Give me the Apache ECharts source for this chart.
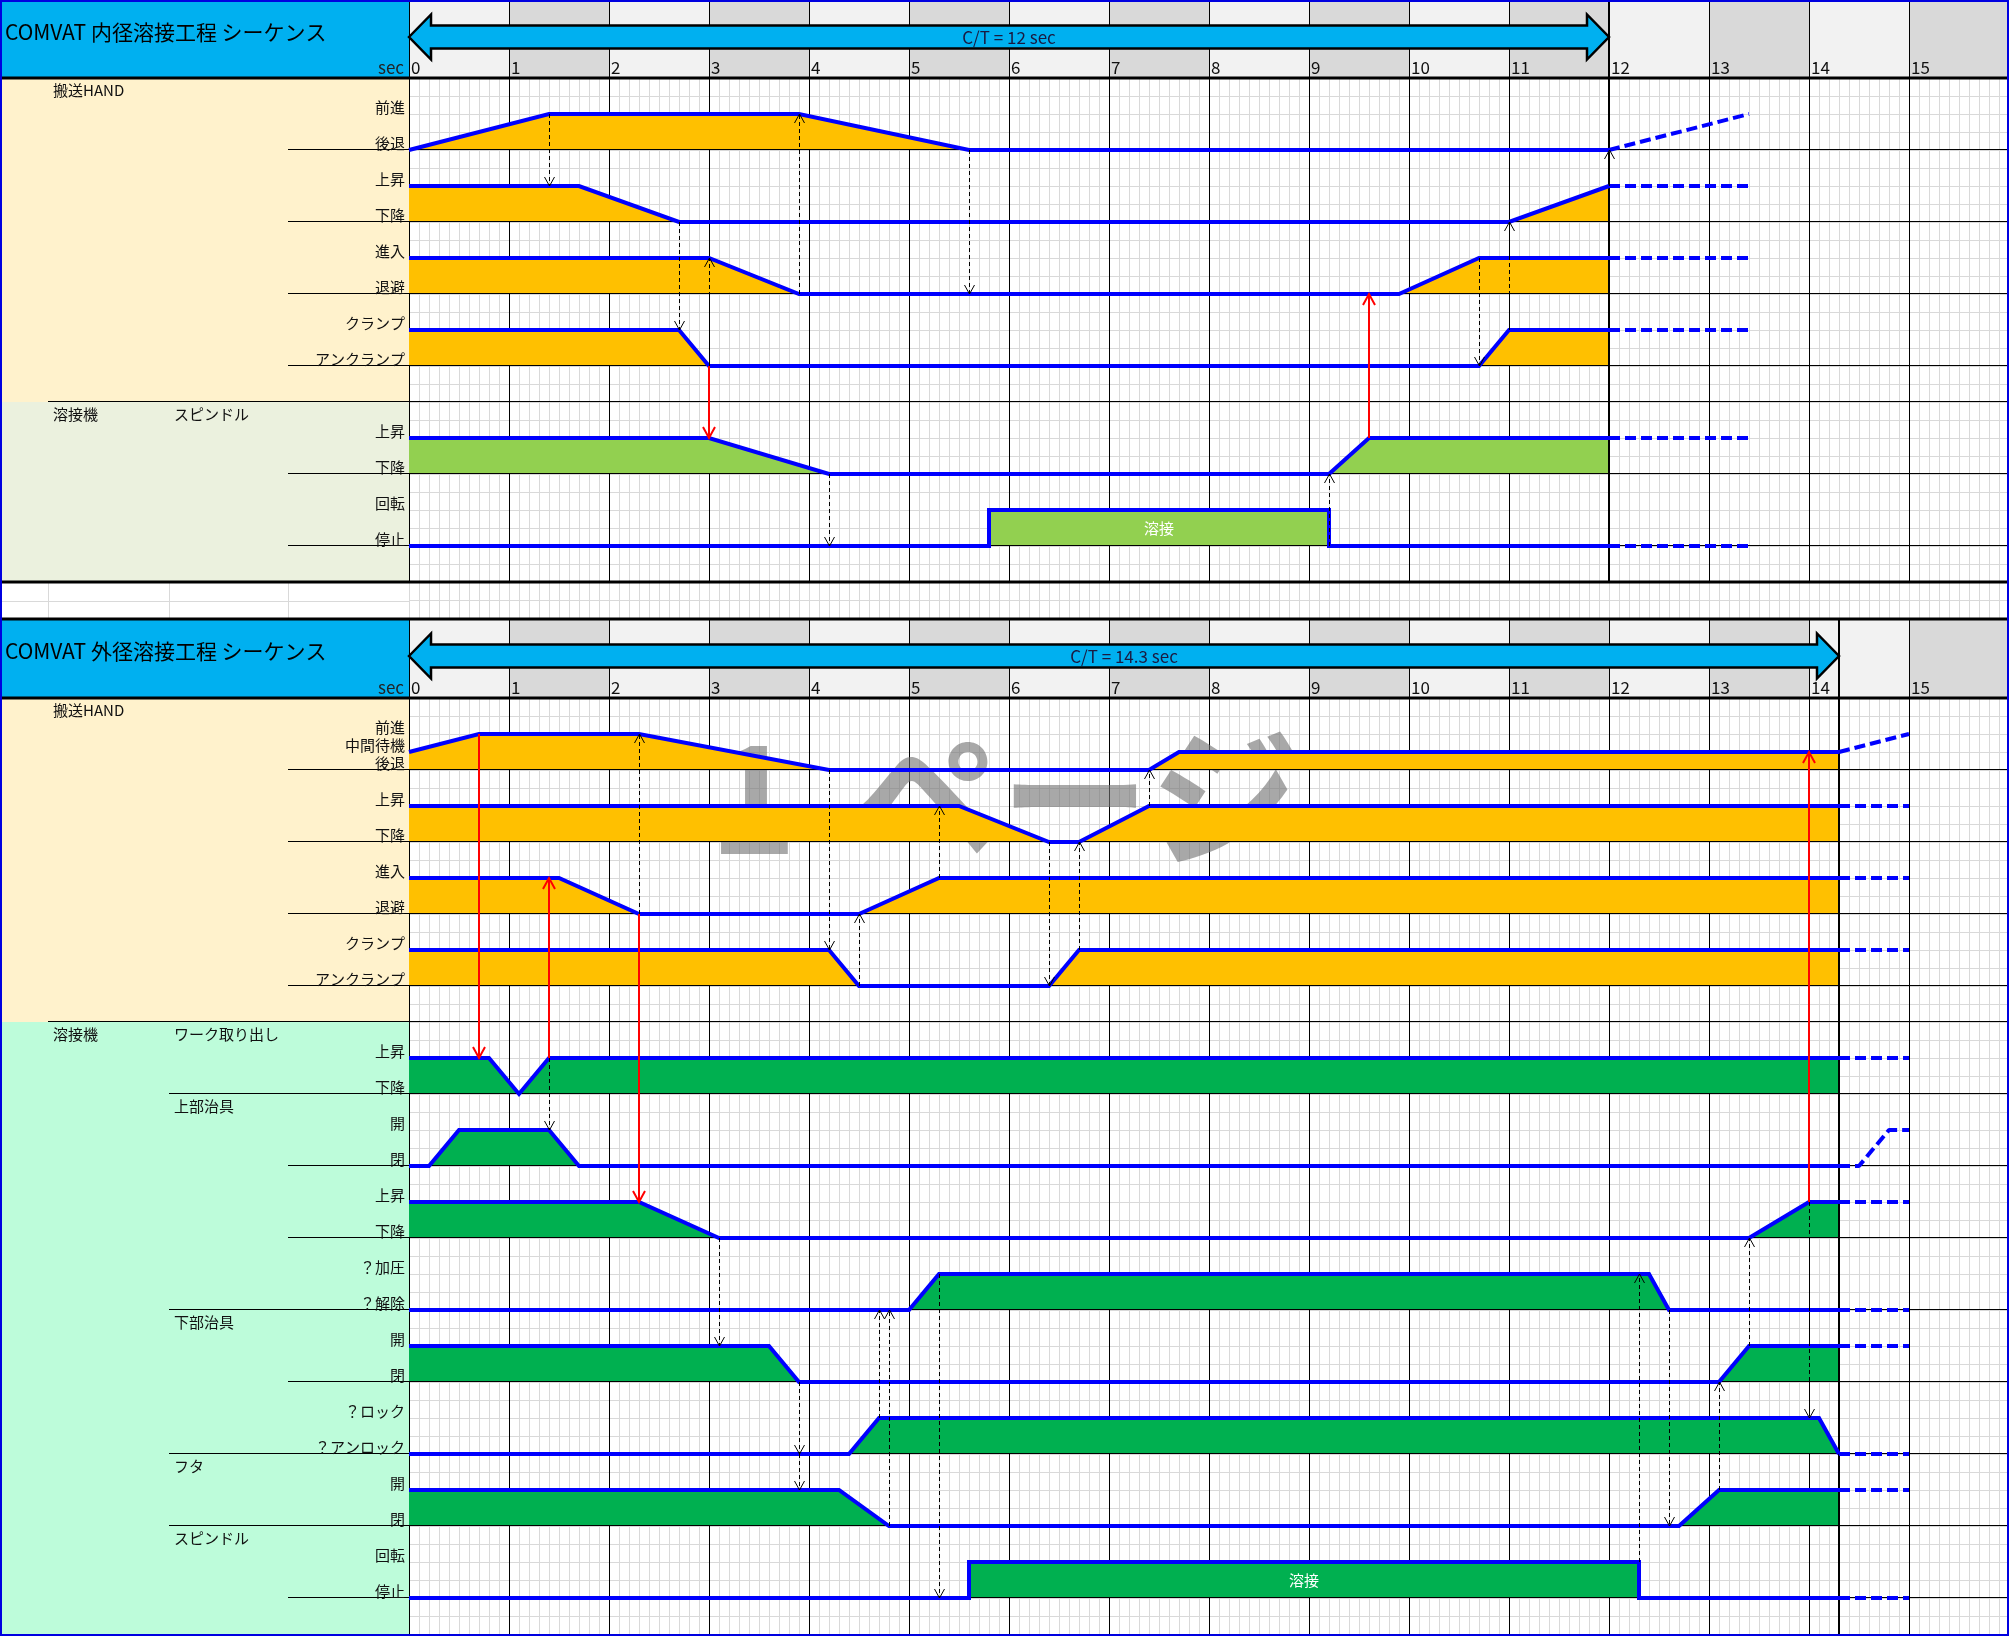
<!DOCTYPE html>
<html>
<head>
<meta charset="utf-8">
<script src="https://cdn.jsdelivr.net/npm/echarts@6.0.0/dist/echarts.min.js"></script>
<style>
html,body{margin:0;padding:0;background:#ffffff;overflow:hidden;}
#chart{width:2009px;height:1636px;}
</style>
</head>
<body>
<div id="chart"></div>
<script>
// ================= DATA =================
const tickLabels = ['0','1','2','3','4','5','6','7','8','9','10','11','12','13','14','15'];
const topTitle = 'COMVAT 内径溶接工程 シーケンス';
const botTitle = 'COMVAT 外径溶接工程 シーケンス';
const topCycle = 12;
const botCycle = 14.3;
const weldText = '溶接';
const secText = 'sec';

// ---- Top chart (内径): [time, level]  level 1 = upper label, 0 = lower label ----
const tHandFwd     = [[0,0],[1.4,1],[3.9,1],[5.6,0],[12,0]];
const tHandFwdN    = [[12,0],[13.4,1]];
const tHandUp      = [[0,1],[1.7,1],[2.7,0],[11,0],[12,1]];
const tHandUpN     = [[12,1],[13.4,1]];
const tHandIn      = [[0,1],[3,1],[3.9,0],[9.9,0],[10.7,1],[12,1]];
const tHandInN     = [[12,1],[13.4,1]];
const tHandClamp   = [[0,1],[2.7,1],[3,0],[10.7,0],[11,1],[12,1]];
const tHandClampN  = [[12,1],[13.4,1]];
const tSpUp        = [[0,1],[3,1],[4.2,0],[9.2,0],[9.6,1],[12,1]];
const tSpUpN       = [[12,1],[13.4,1]];
const tSpRot       = [[0,0],[5.8,0],[5.8,1],[9.2,1],[9.2,0],[12,0]];
const tSpRotN      = [[12,0],[13.4,0]];

const topLevelNames = [['前進','後退'],['上昇','下降'],['進入','退避'],['クランプ','アンクランプ'],['上昇','下降'],['回転','停止']];
const topGroups = [['搬送HAND',1,0],['溶接機',1,4],['スピンドル',2,4]];
// arrows: [time, fromSignal, fromLevel, toSignal, toLevel]
const topDashArrows = [[1.4,0,1,1,1],[2.7,1,0,3,1],[3.0,3,0,2,1],[3.9,2,0,0,1],[4.2,4,0,5,0],
  [5.6,0,0,2,0],[9.2,5,0,4,0],[10.7,2,1,3,0],[11.0,3,1,1,0],[12.0,1,1,0,0]];
const topRedArrows = [[3.0,3,0,4,1],[9.6,4,1,2,0]];

// ---- Bottom chart (外径) ----
const bHandFwd     = [[0,0.5],[0.7,1],[2.3,1],[4.2,0],[7.4,0],[7.7,0.5],[14.3,0.5]];
const bHandFwdN    = [[14.3,0.5],[15,1]];
const bHandUp      = [[0,1],[5.5,1],[6.4,0],[6.7,0],[7.4,1],[14.3,1]];
const bHandUpN     = [[14.3,1],[15,1]];
const bHandIn      = [[0,1],[1.5,1],[2.3,0],[4.5,0],[5.3,1],[14.3,1]];
const bHandInN     = [[14.3,1],[15,1]];
const bHandClamp   = [[0,1],[4.2,1],[4.5,0],[6.4,0],[6.7,1],[14.3,1]];
const bHandClampN  = [[14.3,1],[15,1]];
const bWorkUp      = [[0,1],[0.8,1],[1.1,0],[1.4,1],[14.3,1]];
const bWorkUpN     = [[14.3,1],[15,1]];
const bUpJigOpen   = [[0,0],[0.2,0],[0.5,1],[1.4,1],[1.7,0],[14.3,0]];
const bUpJigOpenN  = [[14.3,0],[14.5,0],[14.8,1],[15,1]];
const bUpJigUp     = [[0,1],[2.3,1],[3.1,0],[13.4,0],[14,1],[14.3,1]];
const bUpJigUpN    = [[14.3,1],[15,1]];
const bPress       = [[0,0],[5,0],[5.3,1],[12.4,1],[12.6,0],[14.3,0]];
const bPressN      = [[14.3,0],[15,0]];
const bLowJigOpen  = [[0,1],[3.6,1],[3.9,0],[13.1,0],[13.4,1],[14.3,1]];
const bLowJigOpenN = [[14.3,1],[15,1]];
const bLock        = [[0,0],[4.4,0],[4.7,1],[14.1,1],[14.3,0]];
const bLockN       = [[14.3,0],[15,0]];
const bLidOpen     = [[0,1],[4.3,1],[4.8,0],[12.7,0],[13.1,1],[14.3,1]];
const bLidOpenN    = [[14.3,1],[15,1]];
const bSpRot       = [[0,0],[5.6,0],[5.6,1],[12.3,1],[12.3,0],[14.3,0]];
const bSpRotN      = [[14.3,0],[15,0]];

const botLevelNames = [['前進','中間待機','後退'],['上昇','下降'],['進入','退避'],['クランプ','アンクランプ'],
  ['上昇','下降'],['開','閉'],['上昇','下降'],['？加圧','？解除'],['開','閉'],['？ロック','？アンロック'],['開','閉'],['回転','停止']];
const botGroups = [['搬送HAND',1,0],['溶接機',1,4],['ワーク取り出し',2,4],['上部治具',2,5],['下部治具',2,8],['フタ',2,10],['スピンドル',2,11]];
const botDashArrows = [[1.4,4,1,5,1],[2.3,2,0,0,1],[3.1,6,0,8,1],[3.9,8,0,9,0],[3.9,9,0,10,1],
  [4.2,0,0,3,1],[4.5,3,0,2,0],[4.7,9,1,7,0],[4.8,10,0,7,0],[5.3,2,1,1,1],[5.3,7,1,11,0],
  [6.4,1,0,3,0],[6.7,3,1,1,0],[7.4,1,1,0,0],[12.3,11,1,7,1],[12.6,7,0,10,0],[13.1,10,1,8,0],
  [13.4,8,1,6,0],[14.0,6,1,9,1]];
const botRedArrows = [[0.7,0,1,4,1],[1.4,4,1,2,1],[2.3,2,0,6,1],[14.0,6,1,0,0.5]];

// ================= LAYOUT / STYLE =================
const FONT = "'Noto Sans CJK JP','Noto Sans',sans-serif";
const BLUE = '#0000FF';
const ORANGE = '#FFC000', LGREEN = '#92D050', GREEN = '#00B050';
const L = 409, W = 1600;
const COLX = [0, 48, 169, 288, 409];
const topRowBottom = [4,8,12,16,22,26];
const botRowBottom = [4,8,12,16,22,26,30,34,38,42,46,50];
const topFills = [ORANGE,ORANGE,ORANGE,ORANGE,LGREEN,LGREEN];
const botFills = [ORANGE,ORANGE,ORANGE,ORANGE,GREEN,GREEN,GREEN,GREEN,GREEN,GREEN,GREEN,GREEN];
const GRIDS = [
  {top:0, height:78},     // 0 top header
  {top:78, height:504},   // 1 top chart (28 units)
  {top:582, height:37},   // 2 gap
  {top:619, height:79},   // 3 bottom header
  {top:698, height:936}   // 4 bottom chart (52 units)
];

const topSignals = [tHandFwd,tHandUp,tHandIn,tHandClamp,tSpUp,tSpRot];
const topNext = [tHandFwdN,tHandUpN,tHandInN,tHandClampN,tSpUpN,tSpRotN];
const botSignals = [bHandFwd,bHandUp,bHandIn,bHandClamp,bWorkUp,bUpJigOpen,bUpJigUp,bPress,bLowJigOpen,bLock,bLidOpen,bSpRot];
const botNext = [bHandFwdN,bHandUpN,bHandInN,bHandClampN,bWorkUpN,bUpJigOpenN,bUpJigUpN,bPressN,bLowJigOpenN,bLockN,bLidOpenN,bSpRotN];

const chart = echarts.init(document.getElementById('chart'), null, {renderer:'canvas', width:2009, height:1636});

function xAxisFor(i, kind) {
  const base = {type:'value', gridIndex:i, min:0, max:16, interval:1,
    axisLine:{show:false}, axisTick:{show:false}, axisLabel:{show:false}};
  if (kind === 'header') {
    return Object.assign(base, {
      splitArea:{show:true, areaStyle:{color:['#F2F2F2','#D9D9D9']}},
      splitLine:{show:true, lineStyle:{color:'#000', width:1}},
      axisLabel:{show:true, inside:true, margin:2, align:'left', padding:[0,0,0,2],
        color:'#111', fontSize:17, fontFamily:FONT, verticalAlign:'bottom',
        formatter:(v)=> (tickLabels[v] !== undefined ? tickLabels[v] : '')}
    });
  }
  return Object.assign(base, {
    splitLine:{show:true, lineStyle:{color: kind==='gap' ? '#D9D9D9' : '#000', width:1}},
    minorTick:{show:false, splitNumber:10},
    minorSplitLine:{show:true, lineStyle:{color:'#D9D9D9', width:1}}
  });
}
function yAxisFor(i, kind, max) {
  if (kind === 'header') return {type:'value', gridIndex:i, min:0, max:1, show:false};
  return {type:'value', gridIndex:i, min:0, max:max, interval:1, inverse:true,
    axisLine:{show:false}, axisTick:{show:false}, axisLabel:{show:false},
    splitLine:{show:true, lineStyle:{color:'#D9D9D9', width:1}}};
}

function hLineItem(params, api) {
  const cs = params.coordSys;
  const y = Math.round(api.coord([0, api.value(1)])[1]) - 0.5;
  return {type:'line', shape:{x1:cs.x, y1:y, x2:cs.x+cs.width, y2:y}, style:{stroke:'#000', lineWidth:1}};
}
function vLineItem(params, api) {
  const cs = params.coordSys;
  const x = Math.round(api.coord([api.value(0), 0])[0]);
  return {type:'line', shape:{x1:x, y1:cs.y, x2:x, y2:cs.y+cs.height}, style:{stroke:'#000', lineWidth:2}};
}
function arrowRenderer(color, width, dash, hw, hl) {
  return function(params, api) {
    const p1 = api.coord([api.value(0), api.value(1)]);
    const p2 = api.coord([api.value(0), api.value(2)]);
    const x = width % 2 ? Math.round(p1[0]) + 0.5 : Math.round(p1[0]);
    const dir = p2[1] > p1[1] ? 1 : -1;
    return {type:'group', children:[
      {type:'line', shape:{x1:x, y1:p1[1], x2:x, y2:p2[1]}, style:{stroke:color, lineWidth:width, lineDash:dash}},
      {type:'polyline', shape:{points:[[x-hw, p2[1]-dir*hl],[x, p2[1]],[x+hw, p2[1]-dir*hl]]},
        style:{stroke:color, lineWidth:width, fill:'none'}}
    ]};
  };
}
function ctArrowItem(params, api) {
  const cs = params.coordSys;
  const t0 = api.value(0), t1 = api.value(1);
  const x0 = api.coord([t0, 0])[0], x1 = api.coord([t1, 0])[0];
  const cy = cs.y + 37;
  const hl = 22, bh = 11.5, hh = 22.5;
  const pts = [[x0,cy],[x0+hl,cy-hh],[x0+hl,cy-bh],[x1-hl,cy-bh],[x1-hl,cy-hh],[x1,cy],
               [x1-hl,cy+hh],[x1-hl,cy+bh],[x0+hl,cy+bh],[x0+hl,cy+hh]];
  return {type:'group', children:[
    {type:'polygon', shape:{points:pts}, style:{fill:'#00B0F0', stroke:'#000', lineWidth:2.5, lineJoin:'miter'}},
    {type:'text', style:{text:'C/T = ' + t1 + ' ' + secText, x:(x0+x1)/2, y:cy+1, align:'center', verticalAlign:'middle',
      fontSize:17, fontFamily:FONT, fill:'#1a1a40'}}
  ]};
}
function weldLabelItem(params, api) {
  const p = api.coord([api.value(0), api.value(1)]);
  return {type:'text', style:{text:weldText, x:p[0], y:p[1], align:'center', verticalAlign:'middle',
    fontSize:15, fontFamily:FONT, fill:'#ffffff'}};
}

function buildChartSeries(g, gh, signals, nexts, rows, fills, dashArrows, redArrows, cycle, maxUnit) {
  const out = [];
  const levelY = (sig, lvl) => rows[sig] - 2*lvl;
  signals.forEach((d, i) => {
    const b = rows[i];
    const pts = d.map(p => [p[0], b - 2*p[1]]);
    const npts = nexts[i].map(p => [p[0], b - 2*p[1]]);
    out.push({type:'line', xAxisIndex:g, yAxisIndex:g, data:pts, symbol:'none', showSymbol:false, silent:true, z:2,
      lineStyle:{width:0, opacity:0}, areaStyle:{color:fills[i], opacity:1, origin:b}});
    out.push({type:'line', xAxisIndex:g, yAxisIndex:g, data:pts, symbol:'none', showSymbol:false, silent:true, z:5,
      lineStyle:{width:4, color:BLUE, join:'miter', cap:'butt'}});
    out.push({type:'line', xAxisIndex:g, yAxisIndex:g, data:npts, symbol:'none', showSymbol:false, silent:true, z:5,
      lineStyle:{width:4, color:BLUE, type:[11,5], cap:'butt'}});
  });
  const lines = rows.map(b => [0, b]).concat([[0, 18]]);
  out.push({type:'custom', xAxisIndex:g, yAxisIndex:g, data:lines, encode:{x:0, y:1}, renderItem:hLineItem, silent:true, z:3});
  out.push({type:'custom', xAxisIndex:g, yAxisIndex:g, data:[[cycle, 0]], encode:{x:0, y:1}, renderItem:vLineItem, silent:true, z:4});
  out.push({type:'custom', xAxisIndex:gh, yAxisIndex:gh, data:[[cycle, 0]], encode:{x:0, y:1}, renderItem:vLineItem, silent:true, z:4});
  const dashData = dashArrows.map(a => [a[0], levelY(a[1], a[2]), levelY(a[3], a[4])]);
  const redData = redArrows.map(a => [a[0], levelY(a[1], a[2]), levelY(a[3], a[4])]);
  out.push({type:'custom', xAxisIndex:g, yAxisIndex:g, data:dashData, encode:{x:0, y:[1,2]},
    renderItem:arrowRenderer('#000', 1, [4,3], 5, 9), silent:true, z:6});
  out.push({type:'custom', xAxisIndex:g, yAxisIndex:g, data:redData, encode:{x:0, y:[1,2]},
    renderItem:arrowRenderer('#FF0000', 2, null, 6, 11), silent:true, z:6});
  const sp = signals[signals.length - 1];
  const hi = sp.filter(p => p[1] === 1);
  const tc = (hi[0][0] + hi[hi.length-1][0]) / 2;
  const bLast = rows[rows.length - 1];
  out.push({type:'custom', xAxisIndex:g, yAxisIndex:g, data:[[tc, bLast - 1]], encode:{x:0, y:1}, renderItem:weldLabelItem, silent:true, z:7});
  out.push({type:'custom', xAxisIndex:gh, yAxisIndex:gh, data:[[0, cycle, 0.5]], encode:{x:[0,1], y:2}, renderItem:ctArrowItem, silent:true, z:6});
  return out;
}

const series = [].concat(
  buildChartSeries(1, 0, topSignals, topNext, topRowBottom, topFills, topDashArrows, topRedArrows, topCycle, 28),
  buildChartSeries(4, 3, botSignals, botNext, botRowBottom, botFills, botDashArrows, botRedArrows, botCycle, 52)
);

chart.setOption({
  animation:false,
  backgroundColor:'#ffffff',
  textStyle:{fontFamily:FONT},
  grid: GRIDS.map(gd => ({left:L, width:W, top:gd.top, height:gd.height, containLabel:false, outerBoundsMode:'none', show:false})),
  xAxis: [xAxisFor(0,'header'), xAxisFor(1,'chart'), xAxisFor(2,'gap'), xAxisFor(3,'header'), xAxisFor(4,'chart')],
  yAxis: [yAxisFor(0,'header'), yAxisFor(1,'chart',28), yAxisFor(2,'gap',2), yAxisFor(3,'header'), yAxisFor(4,'chart',52)],
  series: series
});

// ================= LEFT PANEL / FRAME (graphics) =================
const py = (g, v) => chart.convertToPixel({gridIndex:g}, [0, v])[1];
const G = [];
function rect(x, y, w, h, fill, z) { G.push({type:'rect', shape:{x, y, width:w, height:h}, style:{fill}, z:z||0, silent:true}); }
function hline(x1, x2, y, color, w, z) { G.push({type:'line', shape:{x1, y1:y, x2, y2:y}, style:{stroke:color, lineWidth:w||1}, z:z||1, silent:true}); }
function vline(x, y1, y2, color, w, z) { G.push({type:'line', shape:{x1:x, y1, x2:x, y2}, style:{stroke:color, lineWidth:w||1}, z:z||1, silent:true}); }
function text(s, x, y, size, align, color, extra) {
  G.push(Object.assign({type:'text', style:{text:s, x, y, fontSize:size, fontFamily:FONT, fill:color||'#111', align:align||'left', verticalAlign:'middle'}, z:3, silent:true}, extra||{}));
}

function panel(gh, g, title, rows, names, groups, maxUnit, handBg, weldBg) {
  const hTop = GRIDS[gh].top, hBot = GRIDS[gh].top + GRIDS[gh].height;
  rect(0, hTop, L, hBot - hTop, '#00B0F0');
  text(title, 5, hTop + 32, 21, 'left', '#000');
  G.push({type:'text', style:{text:secText, x:404, y:hBot - 2, fontSize:17, fontFamily:FONT, fill:'#222', align:'right', verticalAlign:'bottom'}, z:3, silent:true});
  const yDiv = py(g, 18);
  const yEnd = py(g, maxUnit);
  rect(0, hBot, L, yDiv - hBot, handBg);
  rect(0, yDiv, L, yEnd - yDiv, weldBg);
  rows.forEach((b, i) => {
    const yb = Math.round(py(g, b)) - 0.5;
    hline(COLX[3], L, yb, '#000', 1);
    const nm = names[i];
    const lv = nm.length === 3 ? [1, 0.5, 0] : [1, 0];
    nm.forEach((s, k) => text(s, 405, py(g, b - 2*lv[k]) - 7, 15, 'right', '#111'));
  });
  groups.forEach(gr => {
    const topU = rows[gr[2]] - 4;
    const yt = py(g, topU);
    if (gr[2] > 0) hline(COLX[gr[1]], L, Math.round(yt) - 0.5, '#000', 1);
    text(gr[0], COLX[gr[1]] + 5, yt + 12, 15, 'left', '#111');
  });
}
panel(0, 1, topTitle, topRowBottom, topLevelNames, topGroups, 28, '#FFF2CC', '#EBF1DE');
panel(3, 4, botTitle, botRowBottom, botLevelNames, botGroups, 52, '#FFF2CC', '#BDFCDA');

const gapTop = GRIDS[2].top, gapBot = GRIDS[2].top + GRIDS[2].height;
rect(0, gapTop, L, gapBot - gapTop, '#ffffff');
[COLX[1], COLX[2], COLX[3]].forEach(x => vline(x + 0.5, gapTop, gapBot, '#D9D9D9', 1));
hline(0, L, Math.round((gapTop + gapBot) / 2) + 0.5, '#D9D9D9', 1);

[78, 582, 619, 698].forEach(y => G.push({type:'rect', shape:{x:0, y:y-1.5, width:2009, height:3}, style:{fill:'#000'}, z:20, silent:true}));

// watermark (page preview)
const WM = 'rgba(115,115,115,0.62)';
G.push({type:'text', style:{text:'1', x:753, y:797, fontSize:150, fontWeight:'bold', fontFamily:FONT, fill:WM, align:'center', verticalAlign:'middle'}, z:1, silent:true});
G.push({type:'text', style:{text:'ページ', x:1075, y:797, fontSize:150, fontWeight:'bold', fontFamily:FONT, fill:WM, align:'center', verticalAlign:'middle'}, z:1, silent:true});

G.push({type:'rect', shape:{x:1, y:1, width:2007, height:1634}, style:{fill:'none', stroke:'#0000E0', lineWidth:2}, z:30, silent:true});

chart.setOption({graphic:{elements:G}});
</script>
</body>
</html>
